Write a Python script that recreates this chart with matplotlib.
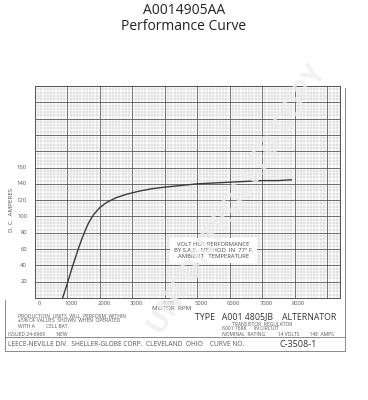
import numpy as np
import matplotlib
matplotlib.use("Agg")
import matplotlib.pyplot as plt
from matplotlib.ticker import MultipleLocator

plt.rcParams['font.family'] = ['Open Sans', 'DejaVu Sans']

# curve
rpm = [850, 950, 1050, 1150, 1250, 1350, 1450, 1550, 1650, 1800, 2000, 2200,
       2500, 2800, 3200, 3600, 4000, 4500, 5000, 5500, 6000, 6500, 7000, 7500, 7900]
amps = [0, 12, 25, 38, 50, 62, 73, 83, 92, 102, 111, 117,
        123, 127, 131, 134, 136, 138, 140, 141, 142, 143, 144, 144, 145]

x_ticks = [0, 1000, 2000, 3000, 4000, 5000, 6000, 7000, 8000]
x_labels = ["0", "1000", "2000", "3000", "4000", "5000", "6000", "7000", "8000"]
y_ticks = [20, 40, 60, 80, 100, 120, 140, 160]

W, H = 368, 400
fig = plt.figure(figsize=(W / 100, H / 100), dpi=100)


def px(x, y):
    return x / W, 1 - y / H


def txt(x, y, s, size=4, **kw):
    kw.setdefault("color", "#555555")
    fig.text(*px(x, y), s, fontsize=size, **kw)


# titles
txt(184, 10, "A0014905AA", 10, ha="center", va="center", color="#222222")
txt(184, 27, "Performance Curve", 10, ha="center", va="center", color="#222222")

# graph paper
l, r, t, b = 35, 340, 86, 298
ax = fig.add_axes([l / W, 1 - b / H, (r - l) / W, (b - t) / H])
ax.set_xlim(0, 9400)
ax.set_ylim(0, 260)
ax.xaxis.set_major_locator(MultipleLocator(1000))
ax.xaxis.set_minor_locator(MultipleLocator(100))
ax.yaxis.set_major_locator(MultipleLocator(20))
ax.yaxis.set_minor_locator(MultipleLocator(4))
ax.grid(which="minor", color="#b5b5b5", lw=0.3)
ax.grid(which="major", color="#555555", lw=0.6)
ax.tick_params(which="both", length=0, labelbottom=False, labelleft=False)
for s in ax.spines.values():
    s.set_color("#555555")
    s.set_linewidth(0.7)

ax.plot(rpm, amps, color="#3a3a3a", lw=1.0)

ax.text(5500, 58, "VOLT HOT PERFORMANCE\nBY S.A.E.  METHOD  IN  77° F.\nAMBIENT   TEMPERATURE",
        fontsize=4.2, color="#444444", ha="center", va="center", linespacing=1.2,
        bbox=dict(facecolor="white", edgecolor="none", pad=3))

# axis labels
for v, s in zip(x_ticks, x_labels):
    ax.text(v + 120, -4, s, fontsize=4.2, color="#555555", ha="center", va="top")
for v in y_ticks:
    ax.text(-250, v, str(v), fontsize=4.2, color="#555555", ha="right", va="center")
txt(12, 210, "D. C.  AMPERES", 4.5, rotation=90, ha="center", va="center")
txt(172, 308, "MOTOR  RPM", 4.5, ha="center", va="center")

# title block
txt(18, 316, "PRODUCTION  UNITS  WILL  PERFORM  WITHIN", 3.6, va="center")
txt(18, 321, "±5% OF VALUES  SHOWN  WHEN  OPERATED", 3.6, va="center")
txt(18, 326, "WITH A         CELL BAT.", 3.6, va="center")
txt(8, 334, "ISSUED 24-6969         NEW", 3.6, va="center")
txt(195, 317, "TYPE   A001 4805JB    ALTERNATOR", 6.3, va="center", color="#333333")
txt(232, 324.5, "TRANSISTOR  REGULATOR", 3.6, va="center")
txt(222, 329, "6001 7688      IN CIRCUIT", 3.6, va="center")
txt(222, 334, "NOMINAL  RATING          14 VOLTS        14E  AMPS", 3.6, va="center")
txt(8, 344.5, "LEECE-NEVILLE DIV.  SHELLER-GLOBE CORP.  CLEVELAND  OHIO    CURVE NO.",
    4.8, va="center")
txt(280, 344.5, "C-3508-1", 6.5, va="center", color="#333333")

box = fig.add_axes([0, 0, 1, 1], facecolor="none")
box.set_xlim(0, W)
box.set_ylim(H, 0)
box.axis("off")
box.plot([5, 5, 345, 345], [300, 351, 351, 88], color="#777777", lw=0.6)
box.plot([5, 345], [337, 337], color="#777777", lw=0.6)

# faint watermark
fig.text(*px(238, 200), "UNCONTROLLED COPY", fontsize=20, color="#eeeeee",
         rotation=58, ha="center", va="center", alpha=0.8, fontweight="bold")

fig.savefig("out.png", dpi=100)
